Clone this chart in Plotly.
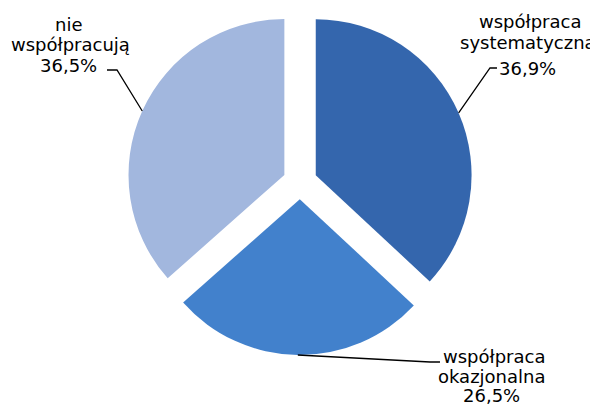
import math
import plotly.graph_objects as go

# Data
categories = ["współpraca systematyczna", "współpraca okazjonalna", "nie współpracują"]
label_lines = [["współpraca", "systematyczna", "36,9%"],
               ["współpraca", "okazjonalna", "26,5%"],
               ["nie", "współpracują", "36,5%"]]
values = [36.9, 26.5, 36.5]
colors = ["#3466AD", "#4281CC", "#A2B7DE"]

# The page body has an 8px margin inside the 598x407 window
OFF = 8
W, H = 598 - OFF, 407 - OFF
PULL = 0.11
CX, CY = 300, 182          # pie centre in window pixels
HALF = 173                 # half size of the pie domain in pixels
R = HALF / (1 + PULL)
FS = 18

def px(x):
    return (x - OFF) / W

def py(y):
    return 1 - (y - OFF) / H

fig = go.Figure(go.Pie(
    labels=categories,
    values=values,
    sort=False,
    direction="clockwise",
    rotation=0,
    pull=[PULL] * len(values),
    marker=dict(colors=colors, line=dict(width=0)),
    textinfo="none",
    hoverinfo="label+percent",
    showlegend=False,
    domain=dict(x=[px(CX - HALF), px(CX + HALF)], y=[py(CY + HALF), py(CY - HALF)]),
))

# Label layout: per line (x centre, baseline y) in window pixels, leader-line elbows
line_pos = [[(530, 27), (528, 48), (527, 74)],
            [(494, 362), (492, 382), (492, 401)],
            [(69, 30), (70, 50), (68, 71)]]
elbows = [[(490, 68), (497, 68)], [(430, 362), (440, 362)], [(117, 70), (107, 70)]]

total = sum(values)
cum = 0.0
shapes = []
annotations = []
for i, v in enumerate(values):
    mid = (cum + v / 2) / total * 2 * math.pi
    cum += v
    ax_ = CX + (1 + PULL) * R * math.sin(mid)
    ay_ = CY - (1 + PULL) * R * math.cos(mid)
    pts = [(ax_, ay_)] + elbows[i]
    path = "M " + " L ".join(f"{px(x):.5f},{py(y):.5f}" for x, y in pts)
    shapes.append(dict(type="path", xref="paper", yref="paper", path=path,
                       line=dict(color="black", width=1.3)))
    for txt, (tx, ty) in zip(label_lines[i], line_pos[i]):
        annotations.append(dict(x=px(tx), y=py(ty - 0.33 * FS), xref="paper", yref="paper",
                                text=txt, showarrow=False,
                                xanchor="center", yanchor="middle", align="center",
                                font=dict(family="DejaVu Sans", size=FS, color="black")))

fig.update_layout(
    width=W, height=H,
    margin=dict(l=0, r=0, t=0, b=0),
    paper_bgcolor="white",
    plot_bgcolor="white",
    shapes=shapes,
    annotations=annotations,
)

fig.write_html("out.html")
